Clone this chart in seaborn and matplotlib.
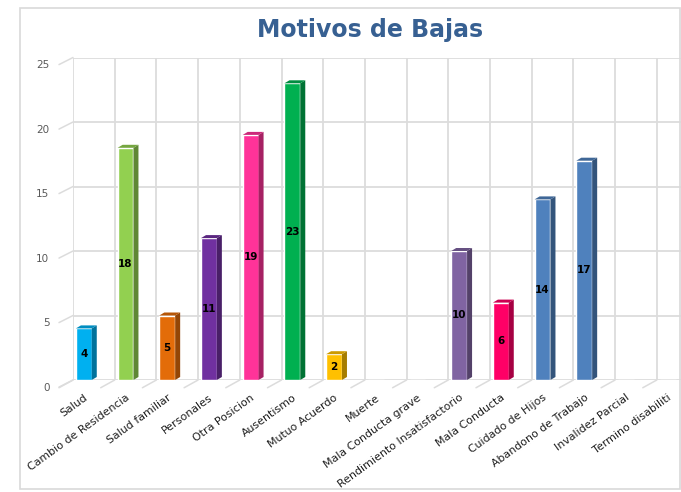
import numpy as np
import pandas as pd
import matplotlib
matplotlib.use("Agg")
import matplotlib.pyplot as plt
import matplotlib.transforms as mtransforms
from matplotlib.patches import Polygon, Rectangle
from matplotlib.colors import to_rgb
import seaborn as sns

# Datos del grafico
motivos = ["Salud", "Cambio de Residencia", "Salud familiar", "Personales",
           "Otra Posicion", "Ausentismo", "Mutuo Acuerdo", "Muerte",
           "Mala Conducta grave", "Rendimiento Insatisfactorio", "Mala Conducta",
           "Cuidado de Hijos", "Abandono de Trabajo", "Invalidez Parcial",
           "Termino disabiliti"]
bajas = [4, 18, 5, 11, 19, 23, 2, 0, 0, 10, 6, 14, 17, 0, 0]
colores = ["#00B0F0", "#92D050", "#E36C09", "#7030A0", "#FF3399", "#00B050",
           "#FFC000", "#A5A5A5", "#A5A5A5", "#8064A2", "#FF0066", "#4F81BD",
           "#4F81BD", "#4F81BD", "#4F81BD"]
y_ticks = [0, 5, 10, 15, 20, 25]

df = pd.DataFrame({"motivo": motivos, "bajas": bajas})

sns.set_style("white")
plt.rcParams["font.family"] = ["DejaVu Sans"]

fig = plt.figure(figsize=(6.81, 4.92), dpi=100)
W, H = 681, 492
slot = 41.7
ax_left, ax_bottom, ax_top = 73, 380, 57.5
ax = fig.add_axes([ax_left / W, (H - ax_bottom) / H,
                   15 * slot / W, (ax_bottom - ax_top) / H])

sns.barplot(data=df, x="motivo", y="bajas", hue="motivo", palette=colores,
            width=0.38, legend=False, ax=ax, saturation=1, zorder=3)

ax.set_xlim(-0.26, 14.74)
ax.set_ylim(0, 25)
ax.set_yticks(y_ticks)
ax.set_xticks(range(len(motivos)))
ax.set_xticks(np.arange(-0.26, 15, 1), minor=True)
ax.grid(False)
ax.grid(True, axis="y", which="major", color="#DCDCDC", lw=1.3, zorder=0)
ax.grid(True, axis="x", which="minor", color="#DCDCDC", lw=1.3, zorder=0)
for s in ax.spines.values():
    s.set_visible(False)
ax.tick_params(axis="both", which="both", length=0)
ax.set_xlabel("")
ax.set_ylabel("")

# efecto 3D: cara lateral y superior
dx, dy = 5 / slot, 3 / 12.9
for p, v in zip(ax.patches, bajas):
    x0 = p.get_x()
    x1 = x0 + p.get_width()
    h = p.get_height()
    if h <= 0:
        continue
    c = np.array(to_rgb(p.get_facecolor()))
    side = Polygon([(x1, 0), (x1 + dx, dy), (x1 + dx, h + dy), (x1, h)],
                   closed=True, fc=c * 0.65, ec="none", zorder=3)
    top = Polygon([(x0, h), (x0 + dx, h + dy), (x1 + dx, h + dy), (x1, h)],
                  closed=True, fc=c * 0.8, ec="none", zorder=3)
    ax.add_patch(side)
    ax.add_patch(top)
    ax.text(x0 + p.get_width() / 2, h / 2, str(v), ha="center", va="center",
            fontsize=7.5, fontweight="bold", color="black", zorder=5)

# lineas diagonales de perspectiva
trans_y = mtransforms.blended_transform_factory(ax.transAxes, ax.transData)
for v in y_ticks:
    ax.plot([-14 / (15 * slot), 0], [v - 0.55, v], transform=trans_y,
            color="#DCDCDC", lw=1.1, clip_on=False)
for b in np.arange(-0.26, 15, 1):
    ax.plot([b - 14 / slot, b], [-0.6, 0], color="#DCDCDC", lw=1.1,
            clip_on=False)

# etiquetas
ax.set_yticklabels([str(t) for t in y_ticks], fontsize=7.5, color="#595959")
ax.tick_params(axis="y", pad=17)
off = mtransforms.ScaledTranslation(0, -5 / 72, fig.dpi_scale_trans)
for lab in ax.get_yticklabels():
    lab.set_transform(lab.get_transform() + off)

ax.set_xticklabels(motivos, rotation=36, ha="right", rotation_mode="anchor",
                   fontsize=7.9, color="#1F1F1F")
ax.tick_params(axis="x", pad=9)

fig.text(370 / W, 1 - 30 / H, "Motivos de Bajas", ha="center", va="center",
         fontsize=17, fontweight="bold", color="#376092")

# borde del area del grafico
fig.patches.append(Rectangle((20 / W, 3 / H), 660 / W, 481 / H,
                             transform=fig.transFigure, fill=False,
                             ec="#D9D9D9", lw=1.2))

fig.savefig("out.png", dpi=100)
